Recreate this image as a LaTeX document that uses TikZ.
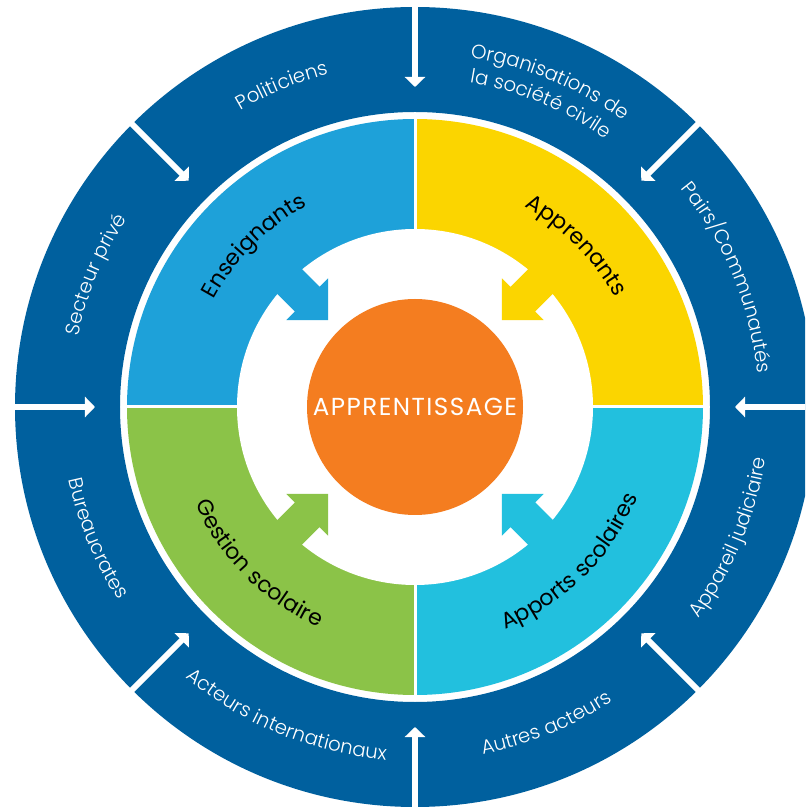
\documentclass[tikz,border=0pt]{standalone}
\usepackage{fontspec}
\setmainfont{Poppins}
\newfontfamily\poplegere[LetterSpace=2]{Poppins Light}
\newfontfamily\popespace[LetterSpace=4]{Poppins}
\usepackage{tikz}
\usetikzlibrary{arrows.meta}
\usetikzlibrary{decorations.text}
\definecolor{bleuanneau}{RGB}{0,96,158}
\definecolor{bleuens}{RGB}{30,161,217}
\definecolor{jauneapp}{RGB}{251,213,0}
\definecolor{vertges}{RGB}{139,195,72}
\definecolor{cyanapp}{RGB}{34,192,222}
\definecolor{orangecentre}{RGB}{244,125,32}
\newcommand{\policeanneau}{\poplegere\fontsize{11.2}{13}\selectfont}
\newcommand{\policequartier}{\popespace\fontsize{12.6}{14}\selectfont}
\tikzstyle{anneau}=[fill=bleuanneau, even odd rule]
\tikzstyle{separation}=[draw=white, line width=0.12cm, -{Triangle[width=0.4cm,length=0.2cm]}]
\tikzstyle{coupure}=[draw=white, line width=0.06cm]
\tikzstyle{centre}=[circle, fill=orangecentre, text=white, minimum size=4.32cm,
inner sep=0pt, font=\fontsize{14}{16}\selectfont\addfontfeatures{LetterSpace=6}]
\tikzstyle{txtanneau}=[decorate, decoration={text along path, text align=center, text color=white}]
\tikzstyle{txtquartier}=[decorate, decoration={text along path, text align=center, text color=black}]

\begin{document}
\begin{tikzpicture}
\useasboundingbox (-8.3,-8.0) rectangle (7.8,8.14);
\clip (-8.3,-8.0) rectangle (7.8,8.14);
\fill[anneau] (0,0) circle (8) (0,0) circle (5.9);
\fill[bleuens] (0,0) -- (90:5.76) arc (90:180:5.76) -- cycle;
\fill[jauneapp] (0,0) -- (0:5.76) arc (0:90:5.76) -- cycle;
\fill[vertges] (0,0) -- (180:5.76) arc (180:270:5.76) -- cycle;
\fill[cyanapp] (0,0) -- (270:5.76) arc (270:360:5.76) -- cycle;
\draw[coupure] (0,5.8) -- (0,-5.8);
\draw[coupure] (-5.8,0) -- (5.8,0);
\fill[white] (0,0) circle (3.56);
\fill[bleuens, rotate=135] (2.46,0) -- (3.05,0.59) -- (3.05,0.35) -- (3.7,0.35) -- (3.7,-0.35) -- (3.05,-0.35) -- (3.05,-0.59) -- cycle;
\fill[jauneapp, rotate=45] (2.46,0) -- (3.05,0.59) -- (3.05,0.35) -- (3.7,0.35) -- (3.7,-0.35) -- (3.05,-0.35) -- (3.05,-0.59) -- cycle;
\fill[vertges, rotate=225] (2.46,0) -- (3.05,0.59) -- (3.05,0.35) -- (3.7,0.35) -- (3.7,-0.35) -- (3.05,-0.35) -- (3.05,-0.59) -- cycle;
\fill[cyanapp, rotate=315] (2.46,0) -- (3.05,0.59) -- (3.05,0.35) -- (3.7,0.35) -- (3.7,-0.35) -- (3.05,-0.35) -- (3.05,-0.59) -- cycle;
\node[centre] (apprent) at (0,0) {APPRENTISSAGE};
%fleches de l'anneau
\coordinate (d1) at (90:8.3);  \coordinate (f1) at (90:6.4);
\coordinate (d2) at (45:8.3);  \coordinate (f2) at (45:6.4);
\coordinate (d3) at (0:8.3);   \coordinate (f3) at (0:6.4);
\coordinate (d4) at (-45:8.3); \coordinate (f4) at (-45:6.4);
\coordinate (d5) at (-90:8.3); \coordinate (f5) at (-90:6.4);
\coordinate (d6) at (-135:8.3);\coordinate (f6) at (-135:6.4);
\coordinate (d7) at (180:8.3); \coordinate (f7) at (180:6.4);
\coordinate (d8) at (135:8.3); \coordinate (f8) at (135:6.4);
\draw[separation] (d1) -- (f1);
\draw[separation] (d2) -- (f2);
\draw[separation] (d3) -- (f3);
\draw[separation] (d4) -- (f4);
\draw[separation] (d5) -- (f5);
\draw[separation] (d6) -- (f6);
\draw[separation] (d7) -- (f7);
\draw[separation] (d8) -- (f8);
%textes
\path[txtanneau, decoration={text={|\policeanneau|Politiciens}}] (135:6.88) arc (135:90:6.88);
\path[txtanneau, decoration={text={|\policeanneau|Organisations de}}] (90:7.08) arc (90:45:7.08);
\path[txtanneau, decoration={text={|\policeanneau|la société civile}}] (90:6.58) arc (90:45:6.58);
\path[txtanneau, decoration={text={|\policeanneau|Pairs/Communautés}}] (45:6.88) arc (45:0:6.88);
\path[txtanneau, decoration={text={|\policeanneau|Secteur privé}}] (180:6.88) arc (180:135:6.88);
\path[txtanneau, decoration={text={|\policeanneau|Bureaucrates}}] (180:7.08) arc (180:225:7.08);
\path[txtanneau, decoration={text={|\policeanneau|Acteurs internationaux}}] (225:7.08) arc (225:270:7.08);
\path[txtanneau, decoration={text={|\policeanneau|Autres acteurs}}] (270:7.08) arc (270:315:7.08);
\path[txtanneau, decoration={text={|\policeanneau|Appareil judiciaire}}] (315:7.08) arc (315:360:7.08);
\path[txtquartier, decoration={text={|\policequartier|Enseignants}}] (180:4.56) arc (180:90:4.56);
\path[txtquartier, decoration={text={|\policequartier|Apprenants}}] (90:4.56) arc (90:0:4.56);
\path[txtquartier, decoration={text={|\policequartier|Gestion scolaire}}] (180:4.8) arc (180:270:4.8);
\path[txtquartier, decoration={text={|\policequartier|Apports scolaires}}] (270:4.8) arc (270:360:4.8);
\end{tikzpicture}
\end{document}
